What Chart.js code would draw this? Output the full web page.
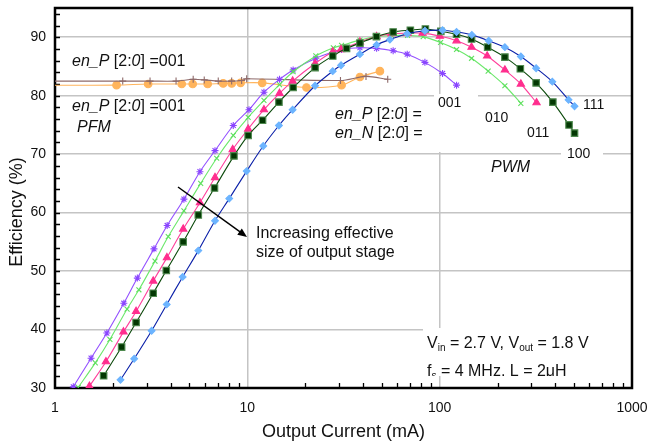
<!DOCTYPE html>
<html>
<head>
<meta charset="utf-8">
<script src="https://cdn.jsdelivr.net/npm/chart.js@4.4.1/dist/chart.umd.min.js"></script>
<style>
  html, body { margin: 0; padding: 0; background: #fff; }
</style>
</head>
<body>
<canvas id="chart" width="648" height="443"></canvas>
<script>
// tick labels
const xTicks = [1, 10, 100, 1000];
const yTicks = [30, 40, 50, 60, 70, 80, 90];

// PWM, en_P = en_N = 001
const cur001 = [1.245, 1.54, 1.86, 2.28, 2.68, 3.27, 3.83, 4.68, 5.67, 6.79, 8.45, 10.2, 12.2, 14.7, 17.3, 22.7, 28.0, 30.9, 38.5, 47.0, 57.3, 67.8, 83.8, 103.5, 122.4];
const eff001 = [30.2, 35.1, 39.4, 44.5, 48.8, 53.8, 57.8, 62.3, 67.0, 70.6, 74.9, 77.6, 80.6, 82.8, 84.4, 86.4, 87.5, 87.9, 88.2, 88.1, 87.7, 87.1, 85.7, 83.8, 81.8];

// 010
const cur010 = [1.32, 1.62, 1.93, 2.37, 2.73, 3.31, 3.88, 4.68, 5.72, 6.93, 8.45, 10.1, 12.2, 14.7, 17.3, 22.7, 28.0, 30.9, 38.5, 46.3, 56.2, 68.1, 82.1, 101.1, 122.4, 146.5, 178.7, 218.3, 264.3];
const eff010 = [30.1, 34.3, 38.3, 43.5, 46.8, 51.7, 55.9, 60.3, 65.0, 69.3, 73.2, 76.3, 79.2, 81.9, 84.1, 86.8, 88.2, 88.6, 89.5, 90.1, 90.3, 90.3, 90.1, 89.1, 87.9, 86.4, 84.2, 81.7, 78.7];

// 011
const cur011 = [1.51, 1.84, 2.27, 2.64, 3.24, 3.82, 4.64, 5.67, 6.79, 8.39, 10.1, 12.2, 14.7, 17.2, 22.5, 27.8, 30.7, 38.5, 47.0, 56.2, 68.1, 81.5, 100.2, 122.4, 146.5, 176.6, 218.3, 264.3, 318.9];
const eff011 = [30.3, 34.5, 39.6, 43.1, 48.3, 52.3, 57.2, 61.7, 66.0, 70.8, 74.3, 77.6, 80.4, 82.5, 85.5, 87.5, 87.9, 89.2, 90.1, 90.6, 90.7, 90.7, 90.2, 89.4, 88.3, 86.8, 84.4, 82.0, 78.8];

// 100
const cur100 = [1.79, 2.22, 2.64, 3.24, 3.79, 4.64, 5.56, 6.75, 8.52, 10.1, 12.0, 14.6, 17.3, 22.5, 27.8, 32.8, 38.5, 46.9, 57.3, 70.4, 84.3, 101.4, 122.4, 146.5, 177.6, 218.3, 262.7, 317.4, 387.6, 470.6, 502.6];
const eff100 = [32.1, 37.0, 41.2, 46.2, 50.1, 55.0, 59.6, 64.2, 69.7, 73.2, 75.8, 78.9, 81.4, 84.8, 86.8, 88.1, 89.0, 90.1, 90.9, 91.2, 91.4, 91.0, 90.5, 89.7, 88.3, 86.6, 84.6, 82.2, 78.9, 75.0, 73.6];

// 111
const cur111 = [2.19, 2.58, 3.18, 3.81, 4.61, 5.56, 6.79, 8.05, 9.92, 12.1, 14.6, 17.2, 22.5, 27.8, 30.7, 38.5, 47.0, 55.1, 67.8, 83.8, 103.5, 122.4, 147.0, 179.8, 218.3, 264.3, 317.4, 385.3, 467.7, 502.6];
const eff111 = [31.4, 35.0, 39.8, 44.3, 49.0, 53.5, 58.6, 62.4, 67.1, 71.4, 74.9, 77.6, 81.7, 84.2, 85.2, 87.1, 88.7, 89.6, 90.6, 91.1, 91.2, 90.9, 90.4, 89.4, 88.3, 86.7, 84.7, 82.4, 79.3, 78.2];

// en_P = 001 (upper flat trace)
const curPfmA = [0.9, 2.25, 3.12, 4.26, 5.23, 5.97, 7.06, 8.29, 9.34, 9.92, 30.5, 41.4, 53.7];
const effPfmA = [82.5, 82.5, 82.5, 82.5, 82.8, 82.7, 82.5, 82.5, 82.6, 82.9, 82.6, 83.3, 82.8];

// en_P = 001, PFM
const curPfmB = [0.9, 2.09, 3.05, 4.56, 5.20, 6.22, 7.49, 8.29, 9.23, 11.95, 20.3, 30.9, 38.5, 48.9];
const effPfmB = [81.8, 81.8, 82.0, 82.0, 82.0, 82.0, 82.1, 82.1, 82.2, 82.2, 81.4, 81.8, 83.2, 84.2];

const FONT = '"Liberation Sans", Arial, sans-serif';

function pts(xs, ys) {
    return xs.map((x, i) => ({ x: x, y: ys[i] }));
}

function series(xs, ys, line, style, fill, edge, radius, extra) {
    return Object.assign({
        data: pts(xs, ys),
        showLine: true,
        borderColor: line,
        borderWidth: 1.1,
        tension: 0.3,
        pointStyle: style,
        pointRadius: radius,
        pointBackgroundColor: fill,
        pointBorderColor: edge,
        pointBorderWidth: 1.1
    }, extra || {});
}

function drawRich(ctx, parts, x, y, size) {
    let cx = x;
    parts.forEach(([txt, kind]) => {
        let s = size, dy = 0, st = '';
        if (kind === 'i') st = 'italic ';
        if (kind === 'sub') { s = Math.round(size * 0.65); dy = 4; }
        ctx.font = st + s + 'px ' + FONT;
        ctx.fillText(txt, cx, y + dy);
        cx += ctx.measureText(txt).width;
    });
}

const decor = {
    id: 'decor',
    beforeDatasetsDraw(chart) {
        const { ctx, chartArea: a, scales: { x, y } } = chart;
        ctx.save();
        // white label boxes hiding the grid
        ctx.fillStyle = '#fff';
        ctx.fillRect(434, 94, 44, 58);
        ctx.fillRect(561, 146, 42, 16);
        ctx.fillRect(423, 328, a.right - 424, 48);

        // minor ticks
        ctx.strokeStyle = '#000';
        ctx.lineWidth = 1.3;
        ctx.beginPath();
        for (let v = 32; v < 95; v += 2) {
            const py = Math.round(y.getPixelForValue(v)) + 0.5;
            ctx.moveTo(a.left, py);
            ctx.lineTo(a.left + 5, py);
        }
        [1, 10, 100].forEach(d => {
            for (let m = 2; m <= 9; m++) {
                const px = Math.round(x.getPixelForValue(m * d)) + 0.5;
                ctx.moveTo(px, a.bottom);
                ctx.lineTo(px, a.bottom - 5);
            }
        });
        ctx.stroke();

        // frame
        ctx.lineWidth = 2.5;
        ctx.strokeRect(a.left, a.top, a.right - a.left, a.bottom - a.top);
        ctx.restore();
    },
    afterDatasetsDraw(chart) {
        const { ctx, chartArea: a } = chart;
        ctx.save();
        ctx.fillStyle = '#111';
        ctx.textBaseline = 'middle';
        ctx.textAlign = 'left';

        drawRich(ctx, [['en_P ', 'i'], ['[2:', ''], ['0', 'i'], ['] =001', '']], 72, 62, 16);
        drawRich(ctx, [['en_P ', 'i'], ['[2:', ''], ['0', 'i'], ['] =001', '']], 72, 107, 16);
        drawRich(ctx, [['PFM', 'i']], 77, 128, 16);

        drawRich(ctx, [['en_P ', 'i'], ['[2:', ''], ['0', 'i'], ['] =', '']], 335, 115, 16);
        drawRich(ctx, [['en_N ', 'i'], ['[2:', ''], ['0', 'i'], ['] =', '']], 335, 134, 16);
        drawRich(ctx, [['PWM', 'i']], 491, 168, 16);

        ctx.font = '14px ' + FONT;
        ctx.fillText('001', 438, 103);
        ctx.fillText('010', 485, 118);
        ctx.fillText('011', 527, 133);
        ctx.fillText('100', 567, 154);
        ctx.fillText('111', 583, 105);

        ctx.font = '16px ' + FONT;
        ctx.fillText('Increasing effective', 256, 234);
        ctx.fillText('size of output stage', 256, 253);

        // arrow
        ctx.strokeStyle = '#000';
        ctx.fillStyle = '#000';
        ctx.lineWidth = 1.5;
        const x0 = 178, y0 = 187, x1 = 247, y1 = 237;
        const ang = Math.atan2(y1 - y0, x1 - x0);
        ctx.beginPath();
        ctx.moveTo(x0, y0);
        ctx.lineTo(x1 - 6 * Math.cos(ang), y1 - 6 * Math.sin(ang));
        ctx.stroke();
        ctx.beginPath();
        ctx.moveTo(x1, y1);
        ctx.lineTo(x1 - 10 * Math.cos(ang - 0.4), y1 - 10 * Math.sin(ang - 0.4));
        ctx.lineTo(x1 - 10 * Math.cos(ang + 0.4), y1 - 10 * Math.sin(ang + 0.4));
        ctx.closePath();
        ctx.fill();

        // conditions box, second line is cut by the box edge
        ctx.beginPath();
        ctx.rect(423, 328, a.right - 424, 48);
        ctx.clip();
        ctx.fillStyle = '#111';
        drawRich(ctx, [['V', ''], ['in', 'sub'], [' = 2.7 V, V', ''], ['out', 'sub'], [' = 1.8 V', '']], 427, 344, 16);
        drawRich(ctx, [['f', ''], ['s', 'sub'], [' = 4 MHz, L = 2\u03bcH', '']], 427, 372, 16);
        ctx.restore();

        // y axis title
        ctx.save();
        ctx.fillStyle = '#111';
        ctx.font = '18px ' + FONT;
        ctx.textAlign = 'center';
        ctx.textBaseline = 'middle';
        ctx.translate(17, 212);
        ctx.rotate(-Math.PI / 2);
        ctx.fillText('Efficiency (%)', 0, 0);
        ctx.restore();
    }
};

const pfmClip = { left: 0, top: 5, right: 5, bottom: 5 };

new Chart(document.getElementById('chart'), {
    type: 'scatter',
    data: {
        datasets: [
            series(cur111, eff111, '#0a1fa8', 'rectRot', '#6cb4ff', '#6cb4ff', 3.4),
            series(cur100, eff100, '#0b4a0b', 'rect', '#033803', '#4f8a4f', 4.6),
            series(cur011, eff011, '#ff3e9a', 'triangle', '#ff2e8e', '#ff2e8e', 4.2),
            series(cur010, eff010, '#6be86b', 'crossRot', '#6be86b', '#5ee05e', 3.5),
            series(cur001, eff001, '#9350ff', 'star', '#9350ff', '#8a45ff', 3.5),
            series(curPfmA, effPfmA, '#8e6a6a', 'cross', '#8e6a6a', '#8e6a6a', 3.5, { clip: pfmClip }),
            series(curPfmB, effPfmB, '#ffb45c', 'circle', '#ffb45c', '#ffb45c', 3.8, { clip: pfmClip })
        ]
    },
    options: {
        responsive: false,
        animation: false,
        devicePixelRatio: 1,
        layout: { padding: 0 },
        plugins: {
            legend: { display: false },
            tooltip: { enabled: false }
        },
        scales: {
            x: {
                type: 'logarithmic',
                min: 1,
                max: 1000,
                afterBuildTicks: s => { s.ticks = xTicks.map(v => ({ value: v })); },
                afterFit: s => {
                    s.height = 55;
                    s.paddingLeft = 0;
                    s.paddingRight = 16;
                },
                ticks: {
                    autoSkip: false,
                    maxRotation: 0,
                    padding: 12,
                    color: '#111',
                    font: { family: FONT, size: 14 },
                    callback: v => String(v)
                },
                grid: { color: '#c4c4c4', lineWidth: 1.5, drawTicks: false },
                border: { display: false },
                title: {
                    display: true,
                    text: 'Output Current (mA)',
                    color: '#111',
                    font: { family: FONT, size: 18 },
                    padding: 0
                }
            },
            y: {
                min: 30,
                max: 95,
                afterBuildTicks: s => { s.ticks = yTicks.map(v => ({ value: v })); },
                afterFit: s => {
                    s.width = 55;
                    s.paddingTop = 8;
                    s.paddingBottom = 0;
                },
                ticks: {
                    padding: 9,
                    color: '#111',
                    font: { family: FONT, size: 14 }
                },
                grid: { color: '#c4c4c4', lineWidth: 1.5, drawTicks: false },
                border: { display: false }
            }
        }
    },
    plugins: [decor]
});
</script>
</body>
</html>
